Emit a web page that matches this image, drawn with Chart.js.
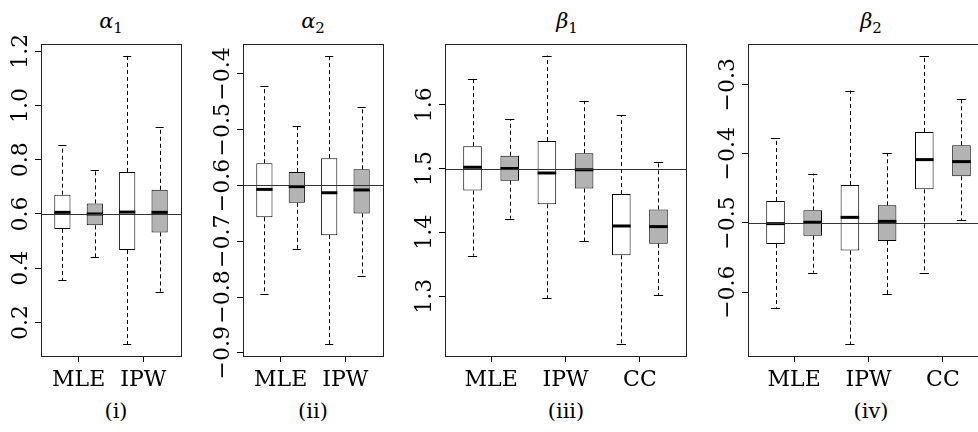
<!DOCTYPE html>
<html><head><meta charset="utf-8">
<script src="https://cdn.jsdelivr.net/npm/chart.js@4.4.1/dist/chart.umd.min.js"></script>
<style>
html,body{margin:0;padding:0;background:#fff;}
#wrap{position:relative;width:978px;height:432px;overflow:hidden;background:#fff}
#wrap canvas{position:absolute;top:0}
.ttl{position:absolute;top:11px;font-family:'DejaVu Serif',serif;font-size:21px;line-height:1;white-space:nowrap;transform:translateX(-50%);color:#000}
.ttl i{font-style:italic}
.ttl sub{font-size:15px;vertical-align:-5px;font-style:normal;line-height:1}
.cap{position:absolute;top:401px;font-family:'DejaVu Serif',serif;font-size:21px;line-height:1;white-space:nowrap;transform:translateX(-50%);color:#000}
</style></head>
<body><div id="wrap">
<div class="ttl" style="left:111px"><i>α</i><sub>1</sub></div>
<div class="ttl" style="left:313px"><i>α</i><sub>2</sub></div>
<div class="ttl" style="left:567px"><i>β</i><sub>1</sub></div>
<div class="ttl" style="left:871px"><i>β</i><sub>2</sub></div>
<div class="cap" style="left:116px">(i)</div>
<div class="cap" style="left:313px">(ii)</div>
<div class="cap" style="left:566px">(iii)</div>
<div class="cap" style="left:871px">(iv)</div>
</div>
<script>
// ---------- data ----------
const cats2 = ['MLE', 'IPW'];
const cats3 = ['MLE', 'IPW', 'CC'];

// panel (i) alpha1
const a1Lo  = [0.355, 0.442, 0.119, 0.314];
const a1Q1  = [0.545, 0.558, 0.467, 0.532];
const a1Med = [0.606, 0.600, 0.607, 0.606];
const a1Q3  = [0.671, 0.639, 0.755, 0.689];
const a1Hi  = [0.853, 0.761, 1.184, 0.920];
const a1Ticks = [0.2, 0.4, 0.6, 0.8, 1.0, 1.2];
const a1TickLabels = ['0.2', '0.4', '0.6', '0.8', '1.0', '1.2'];
const a1True = 0.6;

// panel (ii) alpha2
const a2Lo  = [-0.795, -0.714, -0.885, -0.762];
const a2Q1  = [-0.657, -0.631, -0.689, -0.650];
const a2Med = [-0.607, -0.602, -0.613, -0.608];
const a2Q3  = [-0.560, -0.576, -0.551, -0.571];
const a2Hi  = [-0.422, -0.494, -0.367, -0.459];
const a2Ticks = [-0.9, -0.8, -0.7, -0.6, -0.5, -0.4];
const a2TickLabels = ['\u22120.9', '\u22120.8', '\u22120.7', '\u22120.6', '\u22120.5', '\u22120.4'];
const a2True = -0.6;

// panel (iii) beta1
const b1Lo  = [1.3635, 1.4216, 1.297, 1.3866, 1.2244, 1.302];
const b1Q1  = [1.4655, 1.481, 1.444, 1.4686, 1.364, 1.382];
const b1Med = [1.502, 1.500, 1.493, 1.498, 1.410, 1.409];
const b1Q3  = [1.535, 1.520, 1.543, 1.524, 1.460, 1.436];
const b1Hi  = [1.640, 1.577, 1.677, 1.606, 1.584, 1.510];
const b1Ticks = [1.3, 1.4, 1.5, 1.6];
const b1TickLabels = ['1.3', '1.4', '1.5', '1.6'];
const b1True = 1.5;

// panel (iv) beta2
const b2Lo  = [-0.6226, -0.5719, -0.6757, -0.6027, -0.5719, -0.4962];
const b2Q1  = [-0.5304, -0.5184, -0.540, -0.526, -0.4514, -0.4326];
const b2Med = [-0.501, -0.499, -0.4919, -0.4977, -0.4084, -0.4113];
const b2Q3  = [-0.4682, -0.4818, -0.445, -0.4745, -0.3683, -0.3877];
const b2Hi  = [-0.3776, -0.4287, -0.3085, -0.3987, -0.2579, -0.3205];
const b2Ticks = [-0.6, -0.5, -0.4, -0.3];
const b2TickLabels = ['\u22120.6', '\u22120.5', '\u22120.4', '\u22120.3'];
const b2True = -0.5;

// ---------- layout / style ----------
const FONT = "'DejaVu Serif', serif";
const FSIZE = 22;
const WHITE = '#ffffff', GRAY = '#b3b3b3';
const AXW = 41, RPAD = 12, XAXH = 50, TOP = 44, BOT = 356, H = 432;

const panels = [
  {left: 41,  width: 140, cats: cats2, lo: a1Lo, q1: a1Q1, med: a1Med, q3: a1Q3, hi: a1Hi, ticks: a1Ticks, labels: a1TickLabels, truth: a1True},
  {left: 243, width: 140, cats: cats2, lo: a2Lo, q1: a2Q1, med: a2Med, q3: a2Q3, hi: a2Hi, ticks: a2Ticks, labels: a2TickLabels, truth: a2True},
  {left: 445, width: 241, cats: cats3, lo: b1Lo, q1: b1Q1, med: b1Med, q3: b1Q3, hi: b1Hi, ticks: b1Ticks, labels: b1TickLabels, truth: b1True},
  {left: 748, width: 241, cats: cats3, lo: b2Lo, q1: b2Q1, med: b2Med, q3: b2Q3, hi: b2Hi, ticks: b2Ticks, labels: b2TickLabels, truth: b2True}
];

const crisp = v => Math.round(v) + 0.5;

const boxPlugin = {
  id: 'rbox',
  beforeDatasetsDraw(chart, args, o) {
    const ctx = chart.ctx, ys = chart.scales.y;
    const bars = chart.getDatasetMeta(0).data;
    ctx.save();
    ctx.strokeStyle = '#000';
    ctx.lineWidth = 1;
    bars.forEach((b, i) => {
      const x = crisp(b.x), w = b.width;
      const yq3 = ys.getPixelForValue(o.q3[i]), yhi = ys.getPixelForValue(o.hi[i]);
      const yq1 = ys.getPixelForValue(o.q1[i]), ylo = ys.getPixelForValue(o.lo[i]);
      ctx.setLineDash([4, 3]);
      ctx.beginPath();
      ctx.moveTo(x, yq3); ctx.lineTo(x, yhi);
      ctx.moveTo(x, yq1); ctx.lineTo(x, ylo);
      ctx.stroke();
      ctx.setLineDash([]);
      ctx.beginPath();
      ctx.moveTo(b.x - w / 4, crisp(yhi)); ctx.lineTo(b.x + w / 4, crisp(yhi));
      ctx.moveTo(b.x - w / 4, crisp(ylo)); ctx.lineTo(b.x + w / 4, crisp(ylo));
      ctx.stroke();
    });
    ctx.restore();
  },
  afterDatasetsDraw(chart, args, o) {
    const ctx = chart.ctx, ys = chart.scales.y, ca = chart.chartArea;
    const bars = chart.getDatasetMeta(0).data;
    ctx.save();
    ctx.strokeStyle = '#000';
    ctx.lineWidth = 3;
    ctx.lineCap = 'butt';
    bars.forEach((b, i) => {
      const y = ys.getPixelForValue(o.med[i]);
      ctx.beginPath();
      ctx.moveTo(b.x - b.width / 2, y); ctx.lineTo(b.x + b.width / 2, y);
      ctx.stroke();
    });
    // reference line
    ctx.lineWidth = 1;
    ctx.strokeStyle = '#333';
    const yt = crisp(ys.getPixelForValue(o.truth));
    ctx.beginPath();
    ctx.moveTo(ca.left, yt); ctx.lineTo(ca.right, yt);
    ctx.stroke();
    // plot frame
    ctx.strokeStyle = '#222';
    ctx.strokeRect(crisp(ca.left), crisp(ca.top), Math.round(ca.right) - Math.round(ca.left), Math.round(ca.bottom) - Math.round(ca.top));
    ctx.restore();
  },
  afterDraw(chart, args, o) {
    const ctx = chart.ctx, ys = chart.scales.y, ca = chart.chartArea;
    ctx.save();
    ctx.fillStyle = '#000';
    ctx.font = FSIZE + 'px ' + FONT;
    ctx.textAlign = 'center';
    ctx.textBaseline = 'middle';
    ys.ticks.forEach((t, i) => {
      const y = ys.getPixelForValue(t.value);
      ctx.save();
      ctx.translate(ca.left - 20, y);
      ctx.rotate(-Math.PI / 2);
      ctx.fillText(o.labels[i], 0, 0);
      ctx.restore();
    });
    ctx.restore();
  }
};

const wrap = document.getElementById('wrap');

function build() {
  panels.forEach(p => {
    const n = p.q1.length;
    const pos = p.q1.map((_, i) => i + 1);
    const dmin = Math.min(...p.lo), dmax = Math.max(...p.hi);
    const ext = 0.04 * (dmax - dmin);
    const W = AXW + p.width + RPAD;
    const cv = document.createElement('canvas');
    cv.width = W; cv.height = H;
    cv.style.left = (p.left - AXW) + 'px';
    cv.style.width = W + 'px'; cv.style.height = H + 'px';
    wrap.appendChild(cv);
    new Chart(cv, {
      type: 'bar',
      data: {
        datasets: [{
          data: pos.map((x, i) => ({x: x, y: [p.q1[i], p.q3[i]]})),
          backgroundColor: pos.map((_, i) => i % 2 ? GRAY : WHITE),
          borderColor: '#000',
          borderWidth: 1,
          borderSkipped: false,
          categoryPercentage: 1,
          barPercentage: 0.5
        }]
      },
      options: {
        responsive: false,
        animation: false,
        devicePixelRatio: 1,
        layout: {padding: {left: 0, right: RPAD, top: TOP, bottom: H - BOT - XAXH}},
        plugins: {
          legend: {display: false},
          tooltip: {enabled: false},
          title: {display: false},
          rbox: {lo: p.lo, q1: p.q1, med: p.med, q3: p.q3, hi: p.hi, truth: p.truth, labels: p.labels}
        },
        scales: {
          x: {
            type: 'linear',
            offset: false,
            min: 0.5 - 0.04 * n,
            max: n + 0.5 + 0.04 * n,
            afterBuildTicks: s => { s.ticks = p.cats.map((c, i) => ({value: 2 * i + 1.5})); },
            afterFit: s => { s.height = XAXH; },
            ticks: {
              autoSkip: false, maxRotation: 0, minRotation: 0, padding: 5,
              color: '#000', font: {family: FONT, size: FSIZE},
              callback: (v, i) => p.cats[i]
            },
            grid: {display: true, drawOnChartArea: false, drawTicks: true, tickLength: 6, tickColor: '#000', tickWidth: 1, offset: false},
            border: {display: false}
          },
          y: {
            type: 'linear',
            min: dmin - ext,
            max: dmax + ext,
            afterBuildTicks: s => { s.ticks = p.ticks.map(v => ({value: v})); },
            afterFit: s => { s.width = AXW; },
            ticks: {display: false, autoSkip: false},
            grid: {display: true, drawOnChartArea: false, drawTicks: true, tickLength: 6, tickColor: '#000', tickWidth: 1},
            border: {display: false}
          }
        }
      },
      plugins: [boxPlugin]
    });
  });
}

let built = false;
const go = () => { if (!built) { built = true; build(); } };
if (document.fonts && document.fonts.load) {
  document.fonts.load(FSIZE + "px 'DejaVu Serif'").then(go, go);
  setTimeout(go, 400);
} else { go(); }
</script>
</body></html>
